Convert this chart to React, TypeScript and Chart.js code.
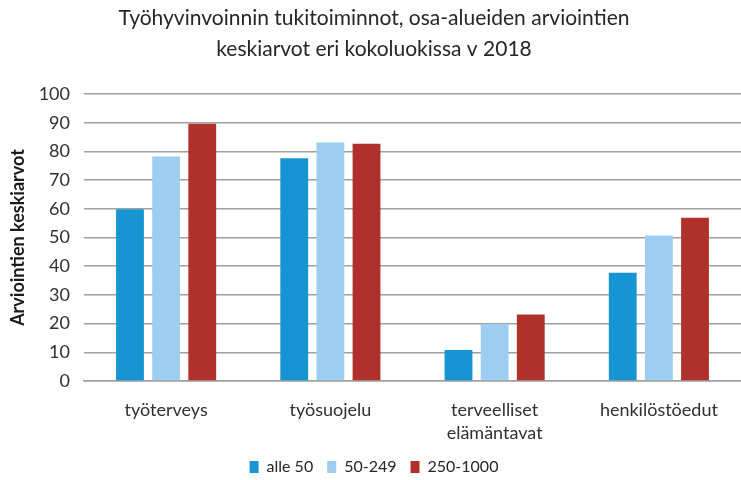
import React, { useEffect, useRef } from "react";
import { Chart, registerables } from "chart.js";

Chart.register(...registerables);

const categories: (string | string[])[] = [
  "työterveys",
  "työsuojelu",
  ["terveelliset", "elämäntavat"],
  "henkilöstöedut",
];
const seriesNames = ["alle 50", "50-249", "250-1000"];
const alle50 = [59.8, 77.6, 10.8, 37.7];
const s50_249 = [78.2, 83.1, 19.8, 50.7];
const s250_1000 = [89.6, 82.7, 23.2, 56.9];
const colors = ["#1795d3", "#9dcdf0", "#b0302a"];
const titleLines = [
  "Työhyvinvoinnin tukitoiminnot, osa-alueiden arviointien",
  "keskiarvot eri kokoluokissa v 2018",
];
const yTitle = "Arviointien keskiarvot";

export default function App() {
  const ref = useRef<HTMLCanvasElement | null>(null);
  useEffect(() => {
    document.body.style.margin = "0";
    const ctx = ref.current!;
    const values = [alle50, s50_249, s250_1000];
    const chart = new Chart(ctx, {
      type: "bar",
      data: {
        labels: categories,
        datasets: seriesNames.map((n, i) => ({
          label: n,
          data: values[i],
          backgroundColor: colors[i],
          categoryPercentage: 0.66,
          barPercentage: 0.77,
        })),
      },
      options: {
        animation: false,
        responsive: false,
        maintainAspectRatio: false,
        layout: { padding: { left: 7, right: 0, top: 2, bottom: -5 } },
        plugins: {
          title: {
            display: true,
            text: titleLines,
            font: { family: "Lato", size: 21, weight: "normal", lineHeight: 1.5 },
            color: "#262626",
            padding: { top: 0, bottom: 29 },
          },
          legend: {
            position: "bottom",
            labels: {
              font: { family: "Lato", size: 16 },
              color: "#262626",
              boxWidth: 9,
              boxHeight: 12,
              padding: 14,
            },
          },
          tooltip: { enabled: false },
        },
        scales: {
          x: {
            grid: { display: false, drawTicks: false },
            border: { display: true, color: "#a0a0a0", width: 1.5 },
            ticks: {
              font: { family: "Lato", size: 18, lineHeight: 1.25 },
              color: "#303030",
              padding: 18,
              maxRotation: 0,
            },
            afterFit: (scale: any) => {
              scale.height = 64;
            },
          },
          y: {
            min: 0,
            max: 100,
            ticks: {
              stepSize: 10,
              font: { family: "Lato", size: 18 },
              color: "#303030",
              padding: 14,
            },
            grid: { color: "#a0a0a0", lineWidth: 1.5, drawTicks: false },
            border: { display: false },
            title: {
              display: true,
              text: yTitle,
              font: { family: "Lato", size: 18, weight: "bold" },
              color: "#1a1a1a",
              padding: { top: 0, bottom: 0 },
            },
            afterFit: (scale: any) => {
              scale.width = 77;
            },
          },
        },
      },
    });
    return () => chart.destroy();
  }, []);
  return (
    <div style={{ width: 741, height: 480 }}>
      <canvas ref={ref} width={741} height={480} style={{ display: "block" }} />
    </div>
  );
}
